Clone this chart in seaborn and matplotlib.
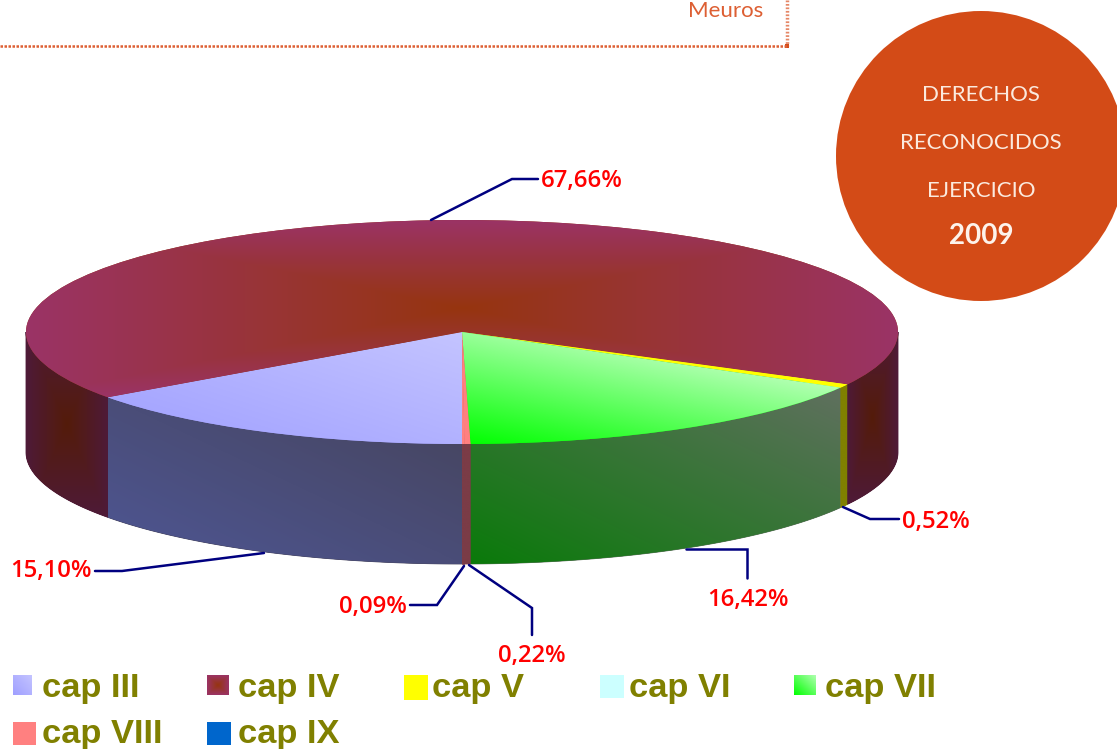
import numpy as np
import matplotlib
matplotlib.use('Agg')
import matplotlib.pyplot as plt
from matplotlib.patches import Circle, Polygon, Rectangle
import seaborn as sns

# data
caps = ['cap III', 'cap IV', 'cap V', 'cap VI', 'cap VII', 'cap VIII', 'cap IX']
shares = [15.10, 67.66, 0.52, 0.0, 16.42, 0.22, 0.09]
circle_lines = ['DERECHOS', 'RECONOCIDOS', 'EJERCICIO']
year = '2009'
unit = 'Meuros'

# colours per slice: (gradient kind, first, second)
top_styles = [('diag', '#9f9fff', '#c4c4ff'), ('rect', '#96350f', '#9b3366'),
              ('flat', '#ffff00', '#ffff00'), ('flat', '#ccffff', '#ccffff'),
              ('slant', '#00ff00', '#ffffff'), ('flat', '#ff8080', '#ff8080'),
              ('flat', '#ff8080', '#ff8080')]
wall_styles = [('diag', '#4e5694', '#46445c'), ('rect', '#541c0a', '#4e1a38'),
               ('flat', '#808000', '#808000'), ('flat', '#668080', '#668080'),
               ('diag', '#0a7a0a', '#60705f'), ('flat', '#7b3c47', '#7b3c47'),
               ('flat', '#7b3c47', '#7b3c47')]
legend_colors = ['#9f9fff', '#9b3366', '#ffff00', '#ccffff', '#00ff00', '#ff8080', '#0066cc']

# layout in pixels
W, H = 1117, 749
CX, CY, RX, RY, DEPTH = 462, 332, 436, 112, 120


def gradient(ax, box, style, clip=None):
    kind, a, b = style
    x0, x1, y_bottom, y_top = box
    u, v = np.meshgrid(np.linspace(0, 1, 300), np.linspace(0, 1, 300))
    if kind == 'diag':
        t = (u + v) / 2
    elif kind == 'slant':
        t = 0.4 * u + 0.6 * v
    elif kind == 'rect':
        t = np.maximum(abs(2 * u - 1), abs(2 * v - 1))
    else:
        t = u * 0
    cmap = sns.blend_palette([a, b], as_cmap=True)
    im = ax.imshow(t, extent=(x0, x1, y_bottom, y_top), origin='lower', cmap=cmap,
                   vmin=0, vmax=1, aspect='auto', interpolation='bilinear', zorder=3)
    if clip is not None:
        im.set_clip_path(clip)
    return im


def wall_polygons(ax, wedge):
    # front part of the rim of one slice
    polys = []
    for lo, hi in [(180, 360), (-180, 0)]:
        a = max(wedge.theta1, lo)
        b = min(wedge.theta2, hi)
        if b <= a:
            continue
        th = np.radians(np.linspace(a, b, 120))
        top = np.column_stack([np.cos(th), np.sin(th)])
        bottom = top[::-1] - [0, DEPTH / RY]
        polys.append(Polygon(np.vstack([top, bottom]), closed=True, transform=ax.transData))
    return polys


sns.set_theme(style='white')

fig = plt.figure(figsize=(W / 100, H / 100), dpi=100, facecolor='white')
ax = fig.add_axes([0, 0, 1, 1])

# rim
low_wedges, _ = ax.pie(shares, startangle=270, counterclock=False, radius=1,
                       center=(0, -DEPTH / RY),
                       colors=[s[1] for s in wall_styles], wedgeprops={'linewidth': 0})
for wedge, style in zip(low_wedges, wall_styles):
    if wedge.theta2 - wedge.theta1 <= 0:
        continue
    for poly in wall_polygons(ax, wedge):
        ax.add_patch(poly)
        poly.set(facecolor=style[2], edgecolor=style[2], linewidth=0.6, zorder=1)
        ext = poly.get_path().get_extents()
        g = gradient(ax, (ext.x0, ext.x1, ext.y0, ext.y1), style, clip=poly)
        g.set_zorder(2)

# top of the pie
wedges, _ = ax.pie(shares, startangle=270, counterclock=False, radius=1,
                   colors=[s[1] for s in top_styles], wedgeprops={'linewidth': 0})
for wedge, style in zip(wedges, top_styles):
    wedge.set_zorder(4)
    if wedge.theta2 - wedge.theta1 <= 0:
        continue
    ext = wedge.get_path().get_extents()
    g = gradient(ax, (ext.x0, ext.x1, ext.y0, ext.y1), style, clip=wedge)
    g.set_zorder(5)

ax.set_aspect('auto')
ax.set_xlim((0 - CX) / RX, (W - CX) / RX)
ax.set_ylim((CY - H) / RY, CY / RY)
ax.axis('off')

# everything else in pixel positions
top = fig.add_axes([0, 0, 1, 1])
top.patch.set_alpha(0)
top.axis('off')

# header box
orange = '#dd5f33'
top.plot([0, 787], [46, 46], color=orange, lw=1.8, ls=(0, (1, 0.6)))
top.plot([787, 787], [0, 46], color=orange, lw=2.5, ls=(0, (0.5, 0.5)), alpha=0.75)
top.add_patch(Rectangle((785, 44), 4, 4, color='#d34b17', lw=0))
top.text(763, 11, unit, ha='right', va='center', fontsize=16, color=orange, family='Lato')

# badge
top.add_patch(Circle((981, 156), 145, color='#d34b17', lw=0))
for line, y in zip(circle_lines, [95, 143, 191]):
    top.text(981, y, line, ha='center', va='center', fontsize=16, color='#fbeade', family='Lato')
top.text(981, 236, year, ha='center', va='center', fontsize=20, color='#fdf3ec',
         family='Lato', fontweight='bold')

# leader lines and labels
label_text = [f'{v:.2f}'.replace('.', ',') + '%' for v in shares]
leaders = {
    0: ([264, 122, 95], [553, 571, 571], (92, 571, 'right')),
    1: ([431, 512, 538], [220, 179, 179], (541, 181, 'left')),
    2: ([843, 870, 899], [507, 519, 519], (902, 522, 'left')),
    4: ([686, 747, 747], [549, 549, 578], (748, 600, 'center')),
    5: ([469, 532, 532], [565, 608, 635], (532, 656, 'center')),
    6: ([464, 437, 410], [566, 605, 605], (407, 607, 'right')),
}
for i, (xs, ys, (tx, ty, ha)) in leaders.items():
    top.plot(xs, ys, color='#000080', lw=1.8, solid_joinstyle='miter')
    top.text(tx, ty, label_text[i], ha=ha, va='center', color='#ff0000', fontsize=17.2,
             family='Open Sans', fontweight='semibold')

# legend
swatches = [(13, 32, 675, 695), (207, 229, 675, 695), (404, 428, 675, 700), (600, 624, 675, 698),
            (794, 816, 675, 695), (13, 36, 722, 745), (207, 231, 722, 745)]
text_x = [42, 238, 432, 629, 825, 42, 238]
text_y = [689, 689, 689, 689, 689, 735, 735]
legend_styles = [top_styles[0], top_styles[1], None, None, ('diag', '#00ff00', '#b0ffb0'), None, None]
for i, cap in enumerate(caps):
    x0, x1, y0, y1 = swatches[i]
    if legend_styles[i] is None:
        top.add_patch(Rectangle((x0, y0), x1 - x0, y1 - y0, color=legend_colors[i], lw=0))
    else:
        gradient(top, (x0, x1, y1, y0), legend_styles[i])
    top.text(text_x[i], text_y[i], cap, ha='left', va='center', fontsize=24.8, color='#808000',
             family='Liberation Sans', fontweight='bold')

top.set_aspect('auto')
top.set_xlim(0, W)
top.set_ylim(H, 0)

plt.savefig('out.png', dpi=100)
